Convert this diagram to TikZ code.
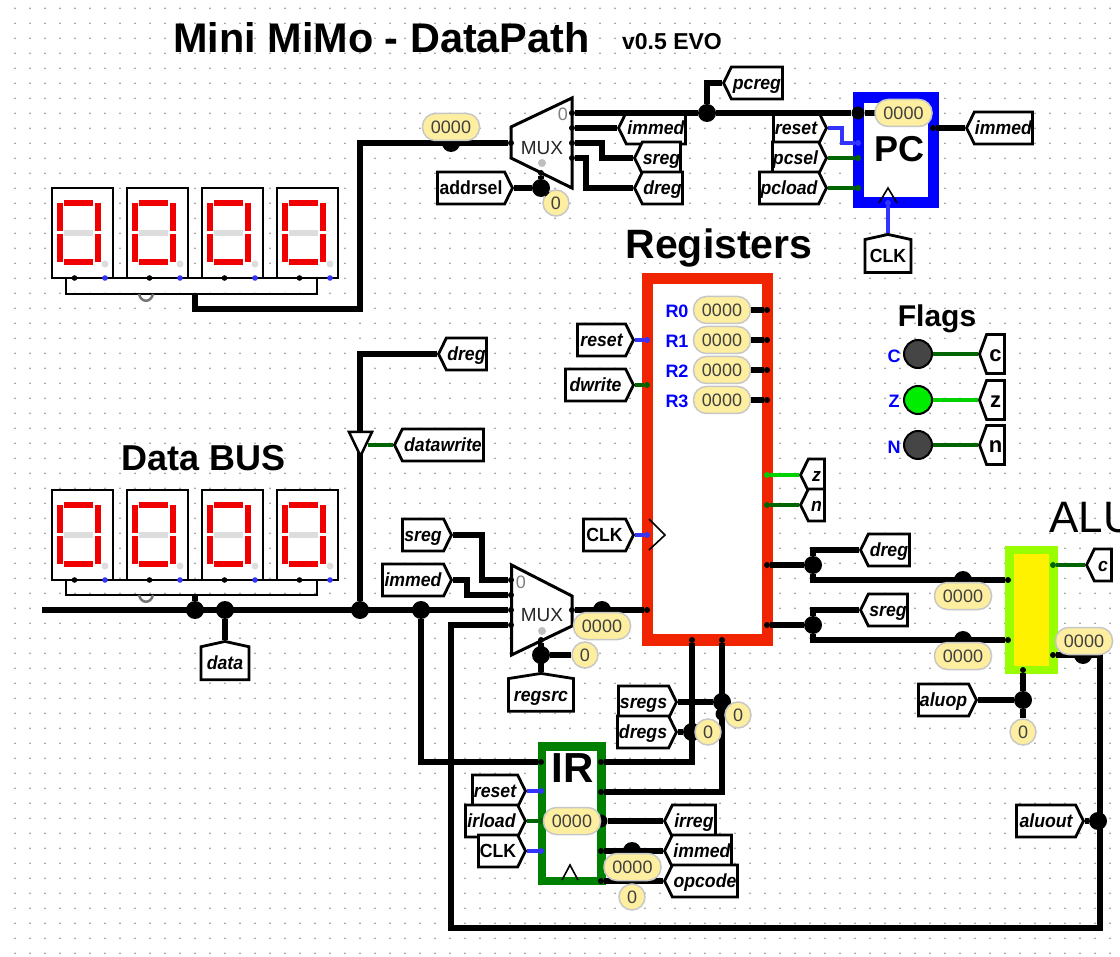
\documentclass[tikz,border=0pt]{standalone}
\usepackage{fontspec}
\setmainfont{Liberation Sans}
\newfontfamily\tunfont[FakeStretch=0.93]{Liberation Sans}
\usetikzlibrary{shapes.symbols}
\definecolor{regred}{RGB}{240,36,0}
\definecolor{irgreen}{RGB}{0,128,0}
\definecolor{alulime}{RGB}{153,255,0}
\definecolor{wiregreen}{RGB}{0,100,0}
\definecolor{litegreen}{RGB}{0,210,0}
\definecolor{wireblue}{RGB}{51,51,255}
\definecolor{probefill}{RGB}{253,238,160}
\definecolor{segred}{RGB}{240,0,0}
\definecolor{seggray}{RGB}{221,221,221}
\tikzset{
  griddot/.style={fill=black!45},
  wire/.style={draw=black,line width=5.5pt,line join=miter},
  thinwire/.style={draw=black,line width=2.2pt},
  bluewire/.style={draw=wireblue,line width=4pt},
  greenwire/.style={draw=wiregreen,line width=4pt},
  litewire/.style={draw=litegreen,line width=4pt},
  pinb/.style={circle,fill=black,inner sep=0pt,minimum size=6pt},
  pinblue/.style={circle,fill=wireblue,inner sep=0pt,minimum size=6pt},
  pingreen/.style={circle,fill=wiregreen,inner sep=0pt,minimum size=6pt},
  pinlite/.style={circle,fill=litegreen,inner sep=0pt,minimum size=6pt},
  junction/.style={circle,fill=black,inner sep=0pt,minimum size=18pt},
  smalljunction/.style={circle,fill=black,inner sep=0pt,minimum size=13pt},
  probe/.style={rectangle,rounded corners=13pt,draw=black!22,line width=1.5pt,fill=probefill,
    text=black!75,font=\fontsize{18}{18}\selectfont,inner sep=0pt,minimum width=57pt,minimum height=27pt},
  probeone/.style={circle,draw=black!22,line width=1.5pt,fill=probefill,
    text=black!75,font=\fontsize{18}{18}\selectfont,inner sep=0pt,minimum size=26pt},
  tunnel/.style={signal,draw=black,line width=2.8pt,fill=white,inner sep=0pt,signal pointer angle=128,
    minimum height=32pt,text height=13.5pt,text depth=0pt,font=\tunfont\fontsize{19}{19}\selectfont\bfseries\itshape},
  tunr/.style={tunnel,signal to=east,anchor=east,minimum width=#1-2pt},
  tunl/.style={tunnel,signal to=west,anchor=west,minimum width=#1-2pt},
  tunu/.style={tunnel,signal to=north,anchor=north,minimum width=#1,minimum height=37pt,signal pointer angle=155},
  upfont/.style={font=\tunfont\fontsize{19}{19}\selectfont\bfseries},
  flagfont/.style={minimum height=39pt,signal pointer angle=140,text height=16pt,font=\fontsize{22}{22}\selectfont\bfseries},
  muxbox/.style={draw=black,line width=3pt,fill=white,line join=miter},
  comp/.style={rectangle,fill=white,inner sep=0pt},
  clockmark/.style={draw=black,line width=1.6pt},
  title/.style={font=\fontsize{#1}{#1}\selectfont\bfseries,inner sep=0pt},
  plain/.style={font=\fontsize{#1}{#1}\selectfont,inner sep=0pt},
  regname/.style={text=blue,font=\fontsize{18}{18}\selectfont\bfseries,inner sep=0pt},
  led/.style={circle,draw=black,line width=2pt,inner sep=0pt,minimum size=28pt},
}
\newcommand{\sevenseg}[2]{%
  \draw[black,line width=2.5pt,fill=white] (#1,#2) rectangle ++(61,90);
  \fill[segred] (#1+12,#2+12) rectangle ++(29,6);
  \fill[segred] (#1+12,#2+71) rectangle ++(29,6);
  \fill[seggray] (#1+12,#2+42) rectangle ++(29,6);
  \fill[segred] (#1+5,#2+15) rectangle ++(6,28);
  \fill[segred] (#1+5,#2+46) rectangle ++(6,28);
  \fill[segred] (#1+42.5,#2+15) rectangle ++(6,28);
  \fill[segred] (#1+42.5,#2+46) rectangle ++(6,28);
  \fill[seggray] (#1+53,#2+76) circle[radius=3.5];
  \fill[black] (#1+22.5,#2+90) circle[radius=2.8];
  \fill[wireblue] (#1+53,#2+90) circle[radius=2.8];
}
\begin{document}
\begin{tikzpicture}[x=1pt,y=-1pt]
\useasboundingbox (0,0) rectangle (1120,957);
\fill[white] (0,0) rectangle (1120,957);
% grid
\foreach \gx in {1,...,74}
  \foreach \gy in {0,...,63}
    \fill[griddot] ({15*\gx},{8.3+15*\gy}) circle[radius=0.9];
% titles
\node[title=41.4] (maintitle) at (381.5,38) {Mini MiMo - DataPath};
\node[title=23] (version) at (672,42) {v0.5 EVO};
\node[title=41] (regtitle) at (719,248) {Registers};
\node[title=30] (flagtitle) at (937,319) {Flags};
\node[title=36] (bustitle) at (203.5,458) {Data BUS};
\node[plain=44,anchor=west] (alutitle) at (1049,518) {ALU};
% displays
\draw[thinwire] (66,278) |- (317,294) -- (317,278);
\draw[thinwire] (52,278) -- (338,278);
\draw[thinwire] (66,580) |- (317,595) -- (317,580);
\draw[thinwire] (52,580) -- (338,580);
\foreach \dx in {52,127,202,277} {
  \sevenseg{\dx}{188}
  \sevenseg{\dx}{490}
}
\draw[black!55,line width=2.5pt] (139,294) .. controls (141,303) and (151,303) .. (153,294);
\draw[black!55,line width=2.5pt] (139,595) .. controls (141,604) and (151,604) .. (153,595);
% components
\node[comp,draw=blue,line width=11pt,minimum width=74.5pt,minimum height=105pt] (pcbox) at (895.75,150.5) {};
\node[comp,draw=regred,line width=11.5pt,minimum width=120pt,minimum height=361.5pt] (regbox) at (707.5,459.25) {};
\node[comp,draw=irgreen,line width=8.3pt,minimum width=59.5pt,minimum height=134.5pt] (irbox) at (571.75,813.75) {};
\node[comp,draw=alulime,fill=yellow,line width=8.5pt,minimum width=44pt,minimum height=120pt] (alubox) at (1031.5,610) {};
\draw[muxbox] (511,127)--(572,98)--(572,188)--(511,158)--cycle;
\draw[muxbox] (511.5,565)--(572,596)--(572,626)--(511.5,655)--cycle;
\node[plain=19,text=black!85] (muxa) at (542,148) {MUX};
\node[plain=19,text=black!85] (muxb) at (542,615) {MUX};
\node[plain=18,text=black!50] (muxazero) at (563,114) {0};
\node[plain=18,text=black!50] (muxbzero) at (521,582) {0};
\fill[black!25] (542,163) circle[radius=4];
\fill[black!25] (542,631) circle[radius=4];
\node[title=36] (pctext) at (899,149) {PC};
\node[title=42] (irtext) at (572.5,768) {IR};
\draw[clockmark] (879,203)--(888,188)--(897,203);
\draw[clockmark] (649,519)--(665,535)--(649,550);
\draw[clockmark] (562,880)--(570,865)--(578,880);
% pins
\node[pinb] (muxain) at (511,143) {};
\node[pinb] (muxaout) at (572,113) {};
\node[pinb] (muxaimm) at (572,128) {};
\node[pinb] (muxasreg) at (572,143) {};
\node[pinb] (muxadreg) at (572,158) {};
\node[pinb] (muxasel) at (541,173) {};
\node[pinb] (muxbsreg) at (511,580) {};
\node[pinb] (muxbimm) at (511,595) {};
\node[pinb] (muxbbus) at (511,610) {};
\node[pinb] (muxbalu) at (511,625) {};
\node[pinb] (muxbout) at (572,610) {};
\node[pinb] (muxbsel) at (541,640) {};
\node[smalljunction] (pcin) at (858,113) {};
\node[pinblue] (pcreset) at (858,143) {};
\node[pingreen] (pcsel) at (858,158) {};
\node[pingreen] (pcload) at (858,188) {};
\node[pinb] (pcout) at (933,128) {};
\node[pinblue] (pcclk) at (888,203) {};
\node[pinblue] (regreset) at (647,340) {};
\node[pingreen] (regwrite) at (647,385) {};
\node[pinblue] (regclk) at (647,535) {};
\node[pinb] (regin) at (647,610) {};
\node[pinb] (regr0) at (767,310) {};
\node[pinb] (regr1) at (767,340) {};
\node[pinb] (regr2) at (767,370) {};
\node[pinb] (regr3) at (767,400) {};
\node[pinlite] (regz) at (767,475) {};
\node[pingreen] (regn) at (767,505) {};
\node[pinb] (regda) at (767,565) {};
\node[pinb] (regdb) at (767,625) {};
\node[pinb] (regsa) at (692,640) {};
\node[pinb] (regsb) at (722,640) {};
\node[pinb] (irin) at (541,762) {};
\node[pinblue] (irreset) at (541,791) {};
\node[pingreen] (irload) at (541,821) {};
\node[pinblue] (irclk) at (541,851) {};
\node[pinb] (irouta) at (601,762) {};
\node[pinb] (iroutb) at (601,792) {};
\node[smalljunction] (iroutc) at (601,821) {};
\node[pinb] (iroutd) at (601,851) {};
\node[pinb] (iroute) at (601,881) {};
\node[pinb] (aluina) at (1008,580) {};
\node[pinb] (aluinb) at (1008,640) {};
\node[pingreen] (aluc) at (1053,565) {};
\node[pinb] (aluout) at (1053,655) {};
\node[pinb] (aluop) at (1023,670) {};
\coordinate (dispa) at (195,294);
\coordinate (dispb) at (195,595);
\coordinate (bufin) at (360,431);
\coordinate (busstart) at (42,610);
% tunnels
\node[tunl=61pt] (pcregt) at (722,83) {pcreg};
\node[tunl=69pt] (immedta) at (617,128) {immed};
\node[tunl=48pt] (sregta) at (633,158) {sreg};
\node[tunl=50pt] (dregta) at (633,188) {dreg};
\node[tunr=77pt,upfont] (addrselt) at (514,188) {addrsel};
\node[tunr=55pt] (resettp) at (828,128) {reset};
\node[tunr=56pt] (pcselt) at (828,158) {pcsel};
\node[tunr=69pt] (pcloadt) at (828,188) {pcload};
\node[tunl=68pt] (immedtb) at (965,128) {immed};
\node[tunu=46pt,upfont] (clktp) at (888,233) {CLK};
\node[tunr=58pt] (resettr) at (635,340) {reset};
\node[tunr=70pt] (dwritet) at (635,385) {dwrite};
\node[tunr=52pt,upfont] (clktr) at (635,535) {CLK};
\node[tunl=26pt] (zt) at (799,475) {z};
\node[tunl=26pt] (nt) at (799,505) {n};
\node[tunl=27pt,flagfont] (cflag) at (978,354) {c};
\node[tunl=27pt,flagfont] (zflag) at (978,400) {z};
\node[tunl=27pt,flagfont] (nflag) at (978,445) {n};
\node[tunl=50pt] (dregtb) at (437,354) {dreg};
\node[tunl=91pt] (datawritet) at (393,445) {datawrite};
\node[tunu=48pt] (datat) at (225,640) {data};
\node[tunr=51pt] (sregtb) at (453,535) {sreg};
\node[tunr=71pt] (immedtc) at (453,580) {immed};
\node[tunu=65pt,signal pointer angle=162] (regsrct) at (541,672) {regsrc};
\node[tunl=51pt] (dregtc) at (859,550) {dreg};
\node[tunl=49pt] (sregtc) at (859,610) {sreg};
\node[tunl=27pt] (ct) at (1085,565) {c};
\node[tunr=60pt] (aluopt) at (978,700) {aluop};
\node[tunr=69pt] (aluoutt) at (1085,821) {aluout};
\node[tunr=60pt] (sregst) at (678,702) {sregs};
\node[tunr=61pt] (dregst) at (678,732) {dregs};
\node[tunr=55pt] (resetti) at (527,791) {reset};
\node[tunr=62pt] (irloadt) at (527,821) {irload};
\node[tunr=49pt,upfont] (clkti) at (527,851) {CLK};
\node[tunl=53pt] (irregt) at (663,821) {irreg};
\node[tunl=69pt] (immedtd) at (663,851) {immed};
\node[tunl=75pt] (opcodet) at (663,881) {opcode};
% junctions
\node[junction] (jpc) at (707,113) {};
\node[junction] (jaddr) at (451,143) {};
\node[junction] (jaddrsel) at (541,188) {};
\node[junction] (jbusa) at (195,610) {};
\node[junction] (jbusb) at (225,610) {};
\node[junction] (jbusc) at (360,610) {};
\node[junction] (jbusd) at (421,610) {};
\node[junction] (jmuxo) at (602,610) {};
\node[junction] (jregsel) at (541,655) {};
\node[junction] (jdreg) at (813,565) {};
\node[junction] (jsreg) at (813,625) {};
\node[junction] (jalua) at (963,580) {};
\node[junction] (jalub) at (963,640) {};
\node[junction] (jaluo) at (1083,655) {};
\node[junction] (jaluop) at (1023,700) {};
\node[junction] (jaluout) at (1098,821) {};
\node[junction] (jsregs) at (722,702) {};
\node[smalljunction] (jsprobe) at (722,714) {};
\node[junction] (jdregs) at (692,732) {};
\node[junction] (jirimm) at (632,851) {};
\node[pinb] (jirop) at (632,881) {};
% wires
\draw[wire] (dispa) -- ++(0,15) -| (360,143) -- (muxain);
\draw[wire] (muxaout) -- (jpc) -- (pcin);
\draw[wire] (jpc) |- (pcregt.west);
\draw[wire] (muxaimm) -- (immedta.west);
\draw[wire] (muxasreg) -- ++(30,0) |- (sregta.west);
\draw[wire] (muxadreg) -- ++(14,0) |- (dregta.west);
\draw[wire] (addrselt.east) -- (jaddrsel);
\draw[wire] (muxasel) -- (jaddrsel);
\draw[bluewire] (resettp.east) -- ++(14,0) |- (pcreset);
\draw[greenwire] (pcselt.east) -- (pcsel);
\draw[greenwire] (pcloadt.east) -- (pcload);
\draw[wire] (pcout) -- (immedtb.west);
\draw[bluewire] (pcclk) -- (clktp.north);
\draw[bluewire] (resettr.east) -- (regreset);
\draw[greenwire] (dwritet.east) -- (regwrite);
\draw[bluewire] (clktr.east) -- (regclk);
\draw[litewire] (regz) -- (zt.west);
\draw[greenwire] (regn) -- (nt.west);
\draw[wire] (dispb) -- (jbusa);
\draw[wire] (busstart) -- (muxbbus);
\draw[wire] (jbusb) -- (datat.north);
\draw[wire] (jbusc) -- (bufin) |- (dregtb.west);
\draw[greenwire] (368,445) -- (datawritet.west);
\draw[wire] (sregtb.east) -- ++(29,0) |- (muxbsreg);
\draw[wire] (immedtc.east) -- ++(14,0) |- (muxbimm);
\draw[wire] (jbusd) |- (irin);
\draw[wire] (muxbalu) -| (451,928) -| (1100,655) -- (aluout);
\draw[wire] (muxbout) -- (regin);
\draw[wire] (muxbsel) -- (regsrct.north);
\draw[wire] (regda) -- (jdreg) |- (dregtc.west);
\draw[wire] (jdreg) |- (aluina);
\draw[wire] (regdb) -- (jsreg) |- (sregtc.west);
\draw[wire] (jsreg) |- (aluinb);
\draw[greenwire] (aluc) -- (ct.west);
\draw[wire] (aluop) -- (jaluop);
\draw[wire] (aluopt.east) -- (jaluop);
\draw[wire] (aluoutt.east) -- (jaluout);
\draw[wire] (regsa) |- (irouta);
\draw[wire] (regsb) |- (iroutb);
\draw[wire] (sregst.east) -- (jsregs);
\draw[wire] (dregst.east) -- (jdregs);
\draw[bluewire] (resetti.east) -- (irreset);
\draw[greenwire] (irloadt.east) -- (irload);
\draw[bluewire] (clkti.east) -- (irclk);
\draw[wire] (iroutc) -- (irregt.west);
\draw[wire] (iroutd) -- (immedtd.west);
\draw[wire] (iroute) -- (opcodet.west);
% buffer
\draw[draw=black,line width=2.5pt,fill=white,line join=miter] (349,432)--(372,432)--(360.5,456)--cycle;
% flags
\node[led,fill=black!73] (ledc) at (918,354) {};
\node[led,fill=green!93!black] (ledz) at (918,400) {};
\node[led,fill=black!73] (ledn) at (918,445) {};
\node[regname] (labc) at (894,356) {C};
\node[regname] (labz) at (894,401) {Z};
\node[regname] (labn) at (894,447) {N};
\draw[greenwire] (ledc) -- (cflag.west);
\draw[litewire] (ledz) -- (zflag.west);
\draw[greenwire] (ledn) -- (nflag.west);
% registers
\node[regname] (labr0) at (677,311) {R0};
\node[regname] (labr1) at (677,341) {R1};
\node[regname] (labr2) at (677,371) {R2};
\node[regname] (labr3) at (677,401) {R3};
\node[probe] (pbr0) at (722,310) {0000};
\node[probe] (pbr1) at (722,340) {0000};
\node[probe] (pbr2) at (722,370) {0000};
\node[probe] (pbr3) at (722,400) {0000};
\draw[wire] (pbr0) -- (regr0);
\draw[wire] (pbr1) -- (regr1);
\draw[wire] (pbr2) -- (regr2);
\draw[wire] (pbr3) -- (regr3);
% probes
\node[probe] (pbaddr) at (451,127) {0000};
\node[probeone] (pbaddrsel) at (556,203) {0};
\draw[wire] (jaddrsel) -- (pbaddrsel);
\draw[wire] (pcin) -- (880,113);
\node[probe] (pbpc) at (903.5,113) {0000};
\node[probe] (pbmuxo) at (602,626) {0000};
\node[probeone] (pbregsel) at (585,655) {0};
\draw[wire] (jregsel) -- (pbregsel);
\node[probe] (pbalua) at (963,596) {0000};
\node[probe] (pbalub) at (963,656) {0000};
\node[probe] (pbaluo) at (1084,641) {0000};
\node[probeone] (pbaluop) at (1023,732) {0};
\draw[wire] (jaluop) -- (pbaluop);
\node[probeone] (pbsregs) at (738,715) {0};
\node[probeone] (pbdregs) at (708,732) {0};
\node[probe] (pbir) at (572,821) {0000};
\node[probe] (pbirimm) at (632.5,867) {0000};
\node[probeone] (pbirop) at (632,897) {0};
\end{tikzpicture}
\end{document}
